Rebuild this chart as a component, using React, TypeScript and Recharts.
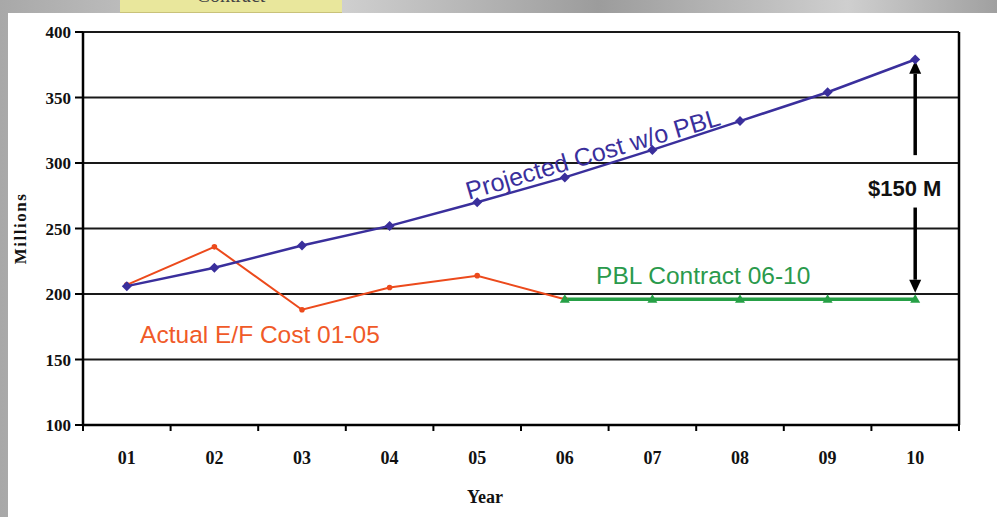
import React from 'react';
import { LineChart, Line, XAxis, YAxis, CartesianGrid, ReferenceLine, ReferenceDot } from 'recharts';

const categories = ['01', '02', '03', '04', '05', '06', '07', '08', '09', '10'];
const projectedCost = [206, 220, 237, 252, 270, 289, 310, 332, 354, 379];
const actualCost: (number | null)[] = [207, 236, 188, 205, 214, 196, null, null, null, null];
const pblCost: (number | null)[] = [null, null, null, null, null, 196, 196, 196, 196, 196];
const yTicks = [100, 150, 200, 250, 300, 350, 400];

const data = categories.map((c, i) => ({
  x: i + 1,
  cat: c,
  projected: projectedCost[i],
  actual: actualCost[i],
  pbl: pblCost[i],
}));

const xTicks: number[] = [0.5];
categories.forEach((_, i) => {
  xTicks.push(i + 1, i + 1.5);
});

const BLUE = '#3a2f9c';
const RED = '#ec4a1c';
const GREEN = '#26a046';

const XTick = (props: any) => {
  const { x, y, payload } = props;
  const v = payload.value;
  if (Number.isInteger(v)) {
    return (
      <text x={x} y={y + 39} textAnchor="middle" fontFamily="Liberation Serif, serif" fontWeight="bold" fontSize={18} fill="#111">
        {categories[v - 1]}
      </text>
    );
  }
  return <line x1={x} y1={y} x2={x} y2={y + 6} stroke="#000" strokeWidth={2} />;
};

const Diamond = (props: any) => {
  const { cx, cy } = props;
  if (cx == null || cy == null) return null;
  const s = 5;
  return <polygon points={`${cx},${cy - s} ${cx + s},${cy} ${cx},${cy + s} ${cx - s},${cy}`} fill={BLUE} />;
};

const Dot = (props: any) => {
  const { cx, cy } = props;
  if (cx == null || cy == null) return null;
  return <circle cx={cx} cy={cy} r={2.8} fill={RED} />;
};

const Tri = (props: any) => {
  const { cx, cy } = props;
  if (cx == null || cy == null) return null;
  const s = 5;
  return <polygon points={`${cx},${cy - s} ${cx + s},${cy + s * 0.7} ${cx - s},${cy + s * 0.7}`} fill={GREEN} />;
};

const arrowShape = (props: any) => {
  const { x1, y1, x2, y2 } = props;
  const dir = y2 < y1 ? -1 : 1;
  const head = 13;
  const hw = 6;
  return (
    <g>
      <line x1={x1} y1={y1} x2={x2} y2={y2 - dir * head} stroke="#000" strokeWidth={3.5} />
      <polygon points={`${x2},${y2} ${x2 + hw},${y2 - dir * head} ${x2 - hw},${y2 - dir * head}`} fill="#000" />
    </g>
  );
};

const textStyle = { fontFamily: 'Liberation Sans, Arial, sans-serif' };

export default function App() {
  return (
    <div style={{ position: 'absolute', left: 0, top: 0, width: 997, height: 517, overflow: 'hidden', background: 'linear-gradient(90deg, #a8a8a8 0%, #d8d8d8 30%, #9c9c9c 60%, #cfcfcf 85%, #a0a0a0 100%)' }}>
      <div style={{ position: 'absolute', left: 120, top: 0, width: 222, height: 12, background: '#e9e79c', borderBottom: '1px solid #c9c27a', overflow: 'hidden' }}>
        <div style={{ position: 'absolute', left: 0, width: 222, top: -16, textAlign: 'center', fontFamily: 'Liberation Serif, serif', fontSize: 20, color: '#444' }}>Contract</div>
      </div>
      <div style={{ position: 'absolute', left: 8, top: 13, width: 989, height: 504, background: '#fff' }} />
      <div style={{ position: 'absolute', left: 0, top: 0 }}>
        <LineChart width={997} height={517} data={data} margin={{ top: 32, right: 38, bottom: 0, left: 0 }}>
          <CartesianGrid horizontal vertical={false} stroke="#000" strokeWidth={2} strokeOpacity={0.9} />
          <XAxis
            dataKey="x"
            type="number"
            domain={[0.5, 10.5]}
            ticks={xTicks}
            interval={0}
            tickSize={0}
            tickMargin={0}
            tickLine={false}
            tick={<XTick />}
            height={92}
            axisLine={{ stroke: '#000', strokeWidth: 2.5 }}
            label={{
              content: (p: any) => {
                const vb = p.viewBox;
                return (
                  <text x={vb.x + vb.width / 2 - 36} y={vb.y + 78} textAnchor="middle" fontFamily="Liberation Serif, serif" fontWeight="bold" fontSize={18} fill="#111">
                    Year
                  </text>
                );
              },
            }}
          />
          <YAxis
            type="number"
            domain={[100, 400]}
            ticks={yTicks}
            interval={0}
            width={83}
            tickSize={8}
            tickMargin={4}
            tick={{ fontFamily: 'Liberation Serif, serif', fontWeight: 'bold', fontSize: 17, fill: '#111' }}
            tickLine={{ stroke: '#000', strokeWidth: 2 }}
            axisLine={{ stroke: '#000', strokeWidth: 2.5 }}
            label={{
              content: (p: any) => {
                const vb = p.viewBox;
                const cx = 20;
                const cy = vb.y + vb.height / 2;
                return (
                  <text x={cx} y={cy} transform={`rotate(-90 ${cx} ${cy})`} textAnchor="middle" dominantBaseline="central" fontFamily="Liberation Serif, serif" fontWeight="bold" fontSize={17} letterSpacing={1.5} fill="#111">
                    Millions
                  </text>
                );
              },
            }}
          />
          <ReferenceLine x={10.5} stroke="#000" strokeWidth={2.5} />
          <Line dataKey="actual" stroke={RED} strokeWidth={2} dot={<Dot />} isAnimationActive={false} connectNulls={false} />
          <Line dataKey="pbl" stroke={GREEN} strokeWidth={3.5} dot={<Tri />} isAnimationActive={false} connectNulls={false} />
          <Line dataKey="projected" stroke={BLUE} strokeWidth={2.5} dot={<Diamond />} isAnimationActive={false} />
          <ReferenceLine segment={[{ x: 10, y: 306 }, { x: 10, y: 378 }]} shape={arrowShape} />
          <ReferenceLine segment={[{ x: 10, y: 266 }, { x: 10, y: 201 }]} shape={arrowShape} />
          <ReferenceDot x={9.88} y={281} r={0} label={{ value: '$150 M', position: 'center', fill: '#111', fontSize: 22, fontWeight: 'bold', ...textStyle }} />
          <ReferenceDot x={6.32} y={307} r={0} label={{ value: 'Projected Cost w/o PBL', position: 'center', fill: BLUE, fontSize: 25, angle: -16.5, ...textStyle }} />
          <ReferenceDot x={7.58} y={214.5} r={0} label={{ value: 'PBL Contract 06-10', position: 'center', fill: '#2a9a4c', fontSize: 24.5, ...textStyle }} />
          <ReferenceDot x={2.52} y={169.4} r={0} label={{ value: 'Actual E/F Cost 01-05', position: 'center', fill: '#f05a28', fontSize: 24.5, ...textStyle }} />
        </LineChart>
      </div>
    </div>
  );
}
